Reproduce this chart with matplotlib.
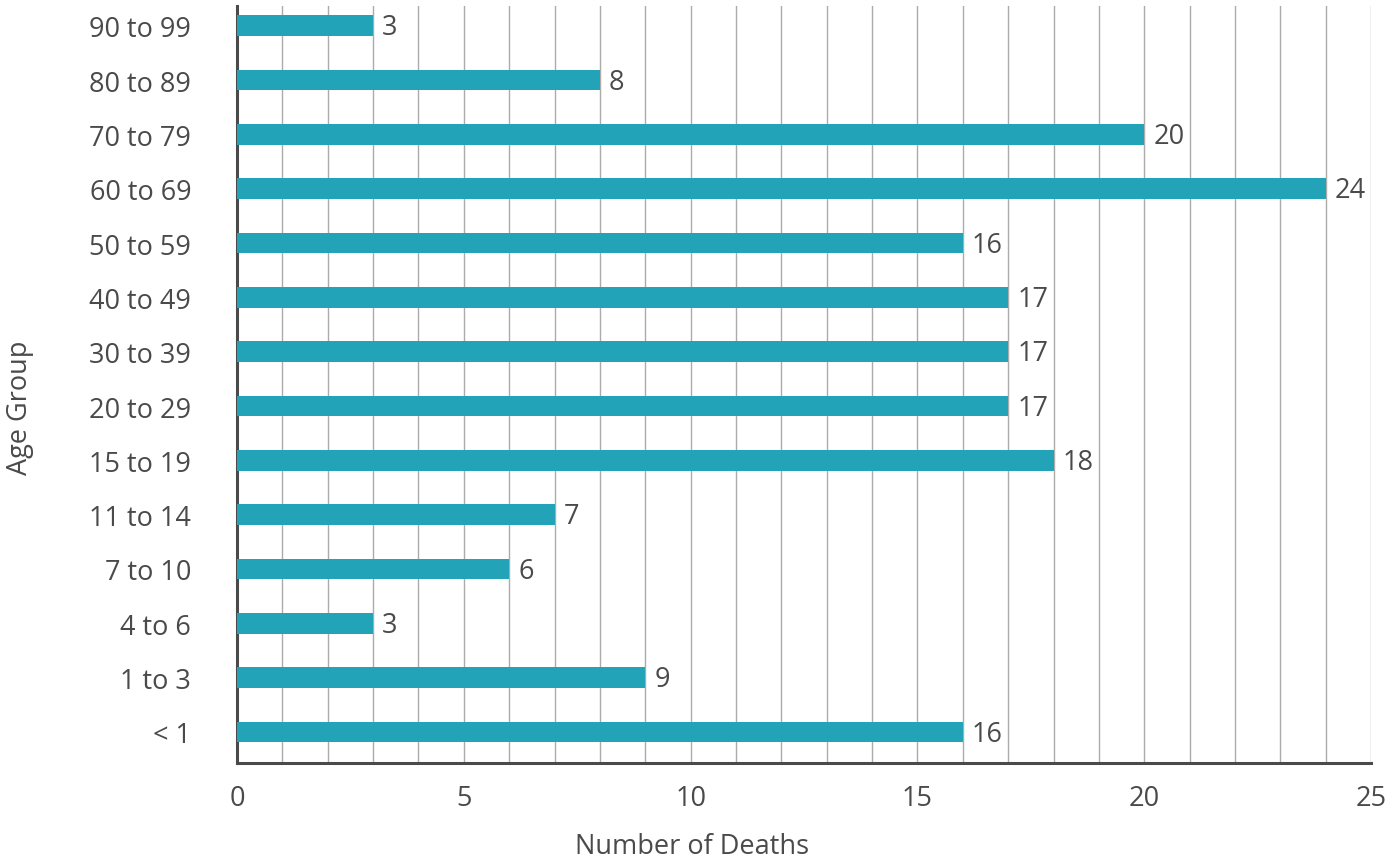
import numpy as np
import matplotlib.pyplot as plt

# age groups from bottom to top, with the number of deaths in each
groups = ["< 1", "1 to 3", "4 to 6", "7 to 10", "11 to 14", "15 to 19", "20 to 29",
          "30 to 39", "40 to 49", "50 to 59", "60 to 69", "70 to 79", "80 to 89", "90 to 99"]
deaths = [16, 9, 3, 6, 7, 18, 17, 17, 17, 16, 24, 20, 8, 3]
xticks = [0, 5, 10, 15, 20, 25]

plt.rcParams['font.family'] = ['Open Sans', 'DejaVu Sans']
txt = '#4a4a4a'

fig = plt.figure(figsize=(14, 8.62), dpi=100)
ax = fig.add_axes([0.1693, 0.1137, 0.81, 0.878])

pos = np.arange(len(groups))
ax.barh(pos, deaths, height=0.385, color='#23a3b8', zorder=3)
for p, v in zip(pos, deaths):
    ax.text(v + 0.2, p - 0.03, str(v), va='center', ha='left', fontsize=19.5, color=txt, zorder=4)

ax.set_xlim(0, 25)
ax.set_ylim(-0.571, 13.36)
ax.set_xticks(xticks)
ax.set_xticks(np.arange(0, 26, 1), minor=True)
ax.xaxis.grid(True, which='both', color='#ababab', lw=1, zorder=0)
ax.set_yticks(pos)
ax.set_yticklabels(groups)

ax.tick_params(axis='both', which='both', length=0, labelsize=19.5, labelcolor=txt)
ax.tick_params(axis='y', pad=33)
ax.tick_params(axis='x', pad=15)

for s in ['top', 'right']:
    ax.spines[s].set_visible(False)
for s in ['left', 'bottom']:
    ax.spines[s].set_color('#4a4a4a')
    ax.spines[s].set_linewidth(2.2)

ax.set_xlabel("Number of Deaths", fontsize=19.5, color=txt)
ax.xaxis.set_label_coords(0.401, -0.091)
ax.set_ylabel("Age Group", fontsize=19.5, color=txt)
ax.yaxis.set_label_coords(-0.179, 0.471)

fig.savefig("out.png", dpi=100)
